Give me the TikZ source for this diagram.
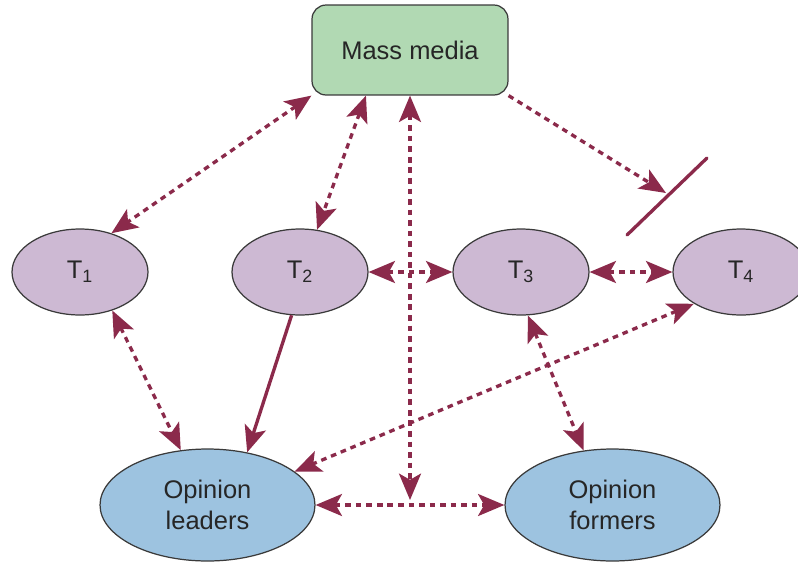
\documentclass[tikz,border=0pt]{standalone}
\usepackage{fontspec}
\setsansfont{Liberation Sans}
\usetikzlibrary{arrows.meta}
\usetikzlibrary{shapes.geometric}

\definecolor{mediagreen}{HTML}{B1D9B3}
\definecolor{topicpurple}{HTML}{CDB9D3}
\definecolor{opinionblue}{HTML}{9DC3E0}
\definecolor{linkred}{HTML}{8B2A4B}
\definecolor{edgegray}{HTML}{3A3A3A}

\begin{document}
\begin{tikzpicture}[x=0.02cm, y=-0.02cm, font=\sffamily\fontsize{14.5}{18}\selectfont, text=black!85,
 box/.style={rectangle, rounded corners=8pt, draw=edgegray, line width=0.7pt, fill=mediagreen, minimum width=3.92cm, minimum height=1.8cm},
 topic/.style={ellipse, draw=edgegray, line width=0.7pt, fill=topicpurple, minimum width=2.72cm, minimum height=1.72cm, inner sep=0pt},
 group/.style={ellipse, draw=edgegray, line width=0.7pt, fill=opinionblue, minimum width=4.3cm, minimum height=2.24cm, inner sep=0pt, align=center},
 link/.style={linkred, line width=1.9pt, dash pattern=on 3.2pt off 2.8pt, >={Stealth[length=15pt, width=12.5pt, inset=3.5pt]}},
 arrow/.style={link, ->}, both/.style={link, <->}, direct/.style={link, solid, ->}]
\useasboundingbox (0,0) rectangle (798,562);
\node (MEDIA) [box] at (410,50) {Mass media};
\node (T1) [topic] at (80,272) {T\textsubscript{1}};
\node (T2) [topic] at (300,272) {T\textsubscript{2}};
\node (T3) [topic] at (521,272) {T\textsubscript{3}};
\node (T4) [topic] at (741,272) {T\textsubscript{4}};
\node (LEADERS) [group] at (207.5,505) {Opinion\\leaders};
\node (FORMERS) [group] at (612.5,505) {Opinion\\formers};
\coordinate (JOIN) at (410,500);
\coordinate (STOP) at (666,193);
\coordinate (BARTOP) at (707,158);
\coordinate (BARBOT) at (627,235);
% links out of the media
\draw [both] (MEDIA.south west) -- (T1.51);
\draw [both] (MEDIA.226) -- (T2.68);
\draw [both] (MEDIA.south) -- (JOIN);
\draw [arrow] (MEDIA.south east) -- (STOP);
\draw [linkred, line width=1.9pt, line cap=round] (BARTOP) -- (BARBOT);
% links between the topics
\draw [both] (T2.east) -- (T3.west);
\draw [both] (T3.east) -- (T4.west);
% links down to the opinion groups
\draw [both] (T1.-50) -- (LEADERS.116);
\draw [direct] (T2.259) -- (LEADERS.53);
\draw [both] (T4.214) -- (LEADERS.21);
\draw [both] (T3.-81) -- (FORMERS.118);
\draw [both] (LEADERS.east) -- (FORMERS.west);
\end{tikzpicture}
\end{document}
